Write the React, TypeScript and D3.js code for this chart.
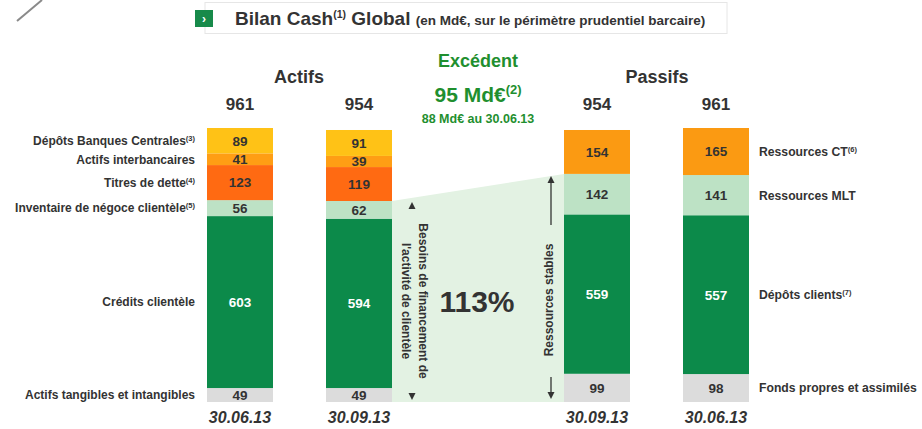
import React from "react";
import * as d3 from "d3";

// ---- DATA ----
const assetLabels = [
  "Actifs tangibles et intangibles",
  "Crédits clientèle",
  "Inventaire de négoce clientèle",
  "Titres de dette",
  "Actifs interbancaires",
  "Dépôts Banques Centrales",
];
const assetSups = ["", "", "(5)", "(4)", "", "(3)"];
const assetsJun = [49, 603, 56, 123, 41, 89];
const assetsSep = [49, 594, 62, 119, 39, 91];

const liabLabels = ["Fonds propres et assimilés", "Dépôts clients", "Ressources MLT", "Ressources CT"];
const liabSups = ["", "(7)", "", "(6)"];
const liabSep = [99, 559, 142, 154];
const liabJun = [98, 557, 141, 165];

const barKeys = ["A1", "A2", "gap", "P1", "P2"];
const barDates = ["30.06.13", "30.09.13", "", "30.09.13", "30.06.13"];

const assetColors = ["#dcdcdc", "#0c8a4a", "#bde2c5", "#ff6a12", "#ff9e14", "#ffc216"];
const liabColors = ["#dcdcdc", "#0c8a4a", "#bde2c5", "#fb9a12"];
const assetTextDark = [true, false, true, true, true, true];
const liabTextDark = [true, false, true, true];

const FONT = "'Liberation Sans', Arial, sans-serif";
const DARK = "#333333";
const GREEN_TXT = "#1f8f2f";

type Seg = { v: number; y0: number; y1: number; color: string; dark: boolean };

function stack(values: number[], colors: string[], dark: boolean[]): Seg[] {
  let acc = 0;
  return values.map((v, i) => {
    const s = { v, y0: acc, y1: acc + v, color: colors[i], dark: dark[i] };
    acc += v;
    return s;
  });
}

export default function App() {
  const W = 922, H = 429;
  const x = d3.scalePoint<string>().domain(barKeys).range([240, 716]);
  const y = d3.scaleLinear().domain([0, 961]).range([402, 128]);
  const bw = 66;

  const bars = [
    { key: "A1", segs: stack(assetsJun, assetColors, assetTextDark) },
    { key: "A2", segs: stack(assetsSep, assetColors, assetTextDark) },
    { key: "P1", segs: stack(liabSep, liabColors, liabTextDark) },
    { key: "P2", segs: stack(liabJun, liabColors, liabTextDark) },
  ];
  const totals: Record<string, number> = {
    A1: d3.sum(assetsJun), A2: d3.sum(assetsSep), P1: d3.sum(liabSep), P2: d3.sum(liabJun),
  };

  const a2 = bars[1].segs;
  const p1 = bars[2].segs;
  const polyLeft = (x("A2") as number) + bw / 2;
  const polyRight = (x("P1") as number) - bw / 2;
  const polyPts = [
    [polyLeft, y(a2[2].y1)],
    [polyRight, y(p1[2].y1)],
    [polyRight, y(0)],
    [polyLeft, y(0)],
  ];

  const leftArrowX = polyLeft + 20;
  const rightArrowX = polyRight - 13;
  const midX = x("gap") as number;

  const tri = (cx: number, cy: number, up: boolean) => {
    const h = 7, w = 3.5;
    return up
      ? `M${cx},${cy} L${cx - w},${cy + h} L${cx + w},${cy + h} Z`
      : `M${cx},${cy} L${cx - w},${cy - h} L${cx + w},${cy - h} Z`;
  };

  return (
    <svg width={W} height={H} style={{ position: "absolute", left: 0, top: 0, background: "#fff" }} fontFamily={FONT}>
      <rect x={0} y={0} width={W} height={H} fill="#fff" />
      {/* decorative diagonal */}
      <line x1={17} y1={21} x2={42} y2={0} stroke="#8a8a8a" strokeWidth={2} />

      {/* title box */}
      <rect x={205} y={2.5} width={522} height={31} fill="#fff" stroke="#e6e6e6" strokeWidth={1} />
      <rect x={195} y={10} width={18} height={17} fill="#178a4a" />
      <text x={204} y={22.5} fill="#fff" fontSize={12} fontWeight="bold" textAnchor="middle">›</text>
      <text x={235} y={25} fill={DARK} fontWeight="bold" fontSize={19}>
        Bilan Cash
        <tspan fontSize={10.5} dy={-7}>(1)</tspan>
        <tspan dy={7}> Global </tspan>
        <tspan fontSize={13.5}>(en Md€, sur le périmètre prudentiel barcaire)</tspan>
      </text>

      {/* light green polygon */}
      <path d={d3.line()(polyPts as [number, number][]) + "Z"} fill="#e3f2e3" />

      {/* bars */}
      {bars.map((b) => {
        const cx = x(b.key) as number;
        return (
          <g key={b.key}>
            {b.segs.map((s, i) => (
              <g key={i}>
                <rect x={cx - bw / 2} y={y(s.y1)} width={bw} height={y(s.y0) - y(s.y1)} fill={s.color} />
                <text x={cx} y={(y(s.y0) + y(s.y1)) / 2} dy="0.36em" textAnchor="middle"
                  fontSize={13.5} fontWeight="bold" fill={s.dark ? DARK : "#fff"}>{s.v}</text>
              </g>
            ))}
            <text x={cx} y={110} textAnchor="middle" fontSize={17} fontWeight="bold" fill={DARK}>{totals[b.key]}</text>
            <text x={cx} y={423} textAnchor="middle" fontSize={16} fontWeight="bold" fontStyle="italic" fill={DARK}>
              {barDates[barKeys.indexOf(b.key)]}
            </text>
          </g>
        );
      })}

      {/* group headers */}
      <text x={299} y={83} textAnchor="middle" fontSize={18} fontWeight="bold" fill={DARK}>Actifs</text>
      <text x={657} y={83} textAnchor="middle" fontSize={18} fontWeight="bold" fill={DARK}>Passifs</text>

      {/* left labels */}
      {bars[0].segs.map((s, i) => (
        <text key={i} x={195} y={(y(s.y0) + y(s.y1)) / 2} dy="0.36em" textAnchor="end" fontSize={12} fontWeight="bold" fill={DARK}>
          {assetLabels[i]}
          {assetSups[i] && <tspan fontSize={7.5} dy={-4}>{assetSups[i]}</tspan>}
        </text>
      ))}

      {/* right labels */}
      {bars[3].segs.map((s, i) => (
        <text key={i} x={759} y={(y(s.y0) + y(s.y1)) / 2} dy="0.36em" textAnchor="start" fontSize={12.2} fontWeight="bold" fill={DARK}>
          {liabLabels[i]}
          {liabSups[i] && <tspan fontSize={7.5} dy={-4}>{liabSups[i]}</tspan>}
        </text>
      ))}

      {/* Excédent */}
      <text x={midX} y={67} textAnchor="middle" fontSize={18} fontWeight="bold" fill={GREEN_TXT}>Excédent</text>
      <text x={midX} y={102} textAnchor="middle" fontSize={21} fontWeight="bold" fill={GREEN_TXT}>
        95 Md€<tspan fontSize={13} dy={-8}>(2)</tspan>
      </text>
      <text x={midX} y={123} textAnchor="middle" fontSize={12.5} fontWeight="bold" fill={GREEN_TXT}>88 Md€ au 30.06.13</text>

      {/* left arrow (heads only) and vertical text */}
      <path d={tri(leftArrowX, 202, true)} fill={DARK} />
      <path d={tri(leftArrowX, 400, false)} fill={DARK} />
      <g transform={`translate(${leftArrowX},301) rotate(90)`}>
        <text x={0} y={-11} textAnchor="middle" dominantBaseline="central" fontSize={12} fontWeight="bold" fill={DARK}>Besoins de financement de</text>
        <text x={0} y={6} textAnchor="middle" dominantBaseline="central" fontSize={12} fontWeight="bold" fill={DARK}>l'activité de clientèle</text>
      </g>

      {/* 113% */}
      <text x={477} y={312} textAnchor="middle" fontSize={30} fontWeight="bold" fill={DARK}>113%</text>

      {/* right arrow with text */}
      <line x1={rightArrowX} y1={183} x2={rightArrowX} y2={225} stroke={DARK} strokeWidth={1.3} />
      <path d={tri(rightArrowX, 176, true)} fill={DARK} />
      <line x1={rightArrowX} y1={377} x2={rightArrowX} y2={392} stroke={DARK} strokeWidth={1.3} />
      <path d={tri(rightArrowX, 399, false)} fill={DARK} />
      <g transform={`translate(${rightArrowX - 2},300) rotate(-90)`}>
        <text x={0} y={0} textAnchor="middle" dominantBaseline="central" fontSize={12} fontWeight="bold" fill={DARK}>Ressources stables</text>
      </g>
    </svg>
  );
}
